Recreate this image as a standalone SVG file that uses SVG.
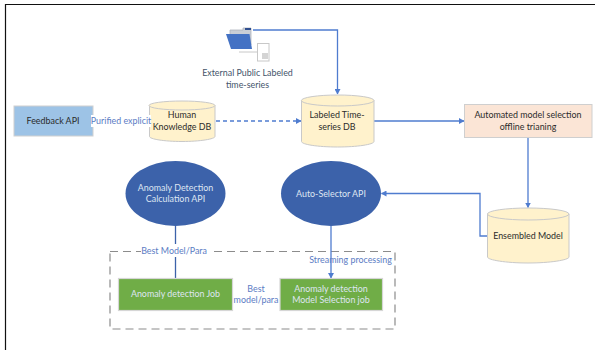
<svg xmlns="http://www.w3.org/2000/svg" width="595" height="350" viewBox="0 0 595 350">
<style>
text{font-family:Lato,"Open Sans","Liberation Sans",sans-serif;font-size:8.900px;text-anchor:middle}
.d{fill:#2b2b2b}.w{fill:#dfe6f2}.b{fill:#5b7cc4}.n{fill:#44546a}
.c{fill:none;stroke:#4f7ccf;stroke-width:1.3}
.cy{fill:#fff2cc;stroke:#c9c9c9;stroke-width:1}
.el{fill:#3c62aa}
.gr{fill:#70ad47;stroke:#d6d6d6;stroke-width:1.2}
</style>
<defs><marker id="a" markerWidth="6" markerHeight="6" refX="5" refY="3" orient="auto" markerUnits="userSpaceOnUse"><path d="M0 0L5.500 3L0 6z" fill="#4f7ccf"/></marker></defs>
<rect width="595" height="350" fill="#fff"/>
<path d="M5.500 350V4.500H595" fill="none" stroke="#111" stroke-width="1.200"/>
<g id="group-box"><rect x="110" y="251.500" width="285" height="77.500" fill="none" stroke="#8c8c8c" stroke-width="1.200" stroke-dasharray="8 5"/></g>
<g id="connectors">
<path class="c" d="M253 30H337.500V94" marker-end="url(#a)"/>
<path class="c" d="M216 121H301" stroke-dasharray="4 3" marker-end="url(#a)"/>
<path class="c" d="M374 121H464" marker-end="url(#a)"/>
<path class="c" d="M528 137.500V207.500" marker-end="url(#a)"/>
<path class="c" d="M487 236H480V193.500H381.500" marker-end="url(#a)"/>
<path class="c" d="M331 226V278" marker-end="url(#a)"/>
<path class="c" style="stroke:#3c62aa" d="M175.500 226V278"/>
</g>
<g id="external-data">
<path d="M230 35V30H243V28H251V45H233z" fill="#c9ced6" stroke="#aeb4bd" stroke-width=".8"/>
<rect x="245" y="28" width="6" height="2" fill="#2f4f8f"/>
<path d="M226 34H249.500L252 49H231z" fill="#4472c4"/>
<path d="M239 52H257" stroke="#c8c8c8" fill="none"/>
<rect x="257.500" y="43.500" width="11.500" height="17.500" fill="#fff" stroke="#c8c8c8"/>
<rect x="262" y="53" width="6" height="6" fill="#d4d4d4"/>
<text class="n" x="247.500" y="76">External Public Labeled</text>
<text class="n" x="247.500" y="88">time-series</text>
</g>
<g id="feedback-api"><rect x="14" y="106" width="79" height="30" fill="#9dc3e6" stroke="#d0d0d0"/><text class="d" x="53" y="124">Feedback API</text></g>
<g id="human-db"><path class="cy" d="M149.500 105.500V136.500C149.500 139 164 141.500 182 141.500S215 139 215 136.500V105.500z"/><ellipse class="cy" cx="182" cy="105.500" rx="33" ry="4.500"/><text class="d" x="182" y="118">Human</text><text class="d" x="182" y="130">Knowledge DB</text></g>
<g id="purified-label"><rect x="91" y="115" width="60" height="12" fill="#fff"/><text class="b" x="121" y="124">Purified explicit</text></g>
<g id="labeled-db"><path class="cy" d="M301.500 100.500V141.500C301.500 144.500 318 147 337.500 147S374 144.500 374 141.500V100.500z"/><ellipse class="cy" cx="337.700" cy="100.500" rx="36.300" ry="5.500"/><text class="d" x="337" y="118">Labeled Time-</text><text class="d" x="337" y="130">series DB</text></g>
<g id="automated-training"><rect x="464.500" y="104.500" width="127.500" height="33" fill="#fbe5d6" stroke="#cfcfcf"/><text class="d" x="528" y="118">Automated model selection</text><text class="d" x="528" y="130">offline trianing</text></g>
<g id="ensembled-model"><path class="cy" d="M487.500 214V257C487.500 260 506 263 528 263S569 260 569 257V214z"/><ellipse class="cy" cx="528.200" cy="214" rx="40.800" ry="6"/><text class="d" x="528" y="239">Ensembled Model</text></g>
<g id="anomaly-api"><ellipse class="el" cx="175.500" cy="193.500" rx="50" ry="32.500"/><text class="w" x="175.500" y="191">Anomaly Detection</text><text class="w" x="175.500" y="202">Calculation API</text></g>
<g id="auto-selector"><ellipse class="el" cx="331" cy="193.500" rx="50" ry="32.500"/><text class="w" x="331" y="197">Auto-Selector API</text></g>
<g id="anomaly-job"><rect class="gr" x="118.500" y="278.500" width="114" height="32"/><text class="w" x="175.500" y="297">Anomaly detection Job</text></g>
<g id="selection-job"><rect class="gr" x="280" y="278.500" width="102.500" height="32"/><text class="w" x="331" y="292">Anomaly detection</text><text class="w" x="331" y="303">Model Selection job</text></g>
<g id="best-para-label"><rect x="141" y="244" width="69" height="13" fill="#fff"/><text class="b" x="174" y="254">Best Model/Para</text></g>
<g id="streaming-label"><text class="b" x="350.500" y="263">Streaming processing</text></g>
<g id="best-model-label"><text class="b" x="256" y="292">Best</text><text class="b" x="256" y="303">model/para</text></g>
</svg>
